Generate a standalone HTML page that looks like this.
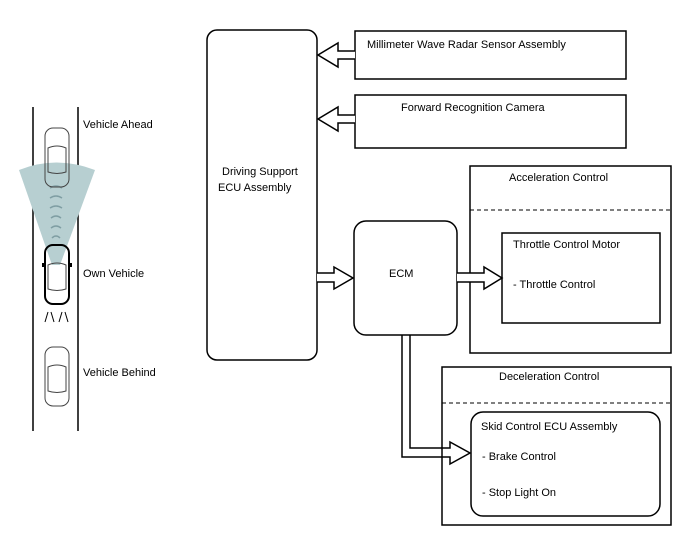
<!DOCTYPE html>
<html><head><style>
body{margin:0;background:#fff;}
svg{display:block;font-family:"Liberation Sans",sans-serif;font-size:11px;}
</style></head><body>
<svg width="688" height="560" viewBox="0 0 688 560">
<g stroke="#000" stroke-width="1.5" fill="none">
<line x1="33" y1="107" x2="33" y2="431"/>
<line x1="78" y1="107" x2="78" y2="431"/>
</g>
<path d="M19,170 Q56,155 95,170 L60,265 L52,265 Z" fill="#b7cfd1"/>
<g fill="none" stroke="#7f9ea3" stroke-width="1.5">
<path d="M50,188 Q56,184 62,188"/><path d="M50,198 Q56,194 62,198"/><path d="M50,208 Q56,204 62,208"/>
<path d="M51,218 Q56,214 61,218"/><path d="M51,228 Q56,224 61,228"/><path d="M52,238 Q56,234 60,238"/>
</g>
<g fill="none" stroke="#444" stroke-width="1">
<rect x="45" y="128" width="24" height="59" rx="8"/>
<path d="M48,148 Q57,144 66,148 L66,172 Q57,175 48,172 Z"/>
<rect x="45" y="347" width="24" height="59" rx="8"/>
<path d="M48,367 Q57,363 66,367 L66,391 Q57,394 48,391 Z"/>
</g>
<rect x="45" y="245" width="24" height="59" rx="8" fill="none" stroke="#000" stroke-width="2"/>
<path d="M48,265 Q57,261 66,265 L66,289 Q57,292 48,289 Z" fill="none" stroke="#444"/>
<rect x="42" y="263" width="3" height="4" fill="#000"/><rect x="69" y="263" width="3" height="4" fill="#000"/>
<g stroke="#000" stroke-width="1">
<line x1="45" y1="322" x2="48" y2="312"/><line x1="51" y1="312" x2="54" y2="322"/>
<line x1="59" y1="322" x2="62" y2="312"/><line x1="65" y1="312" x2="68" y2="322"/>
</g>
<text x="83" y="128">Vehicle Ahead</text>
<text x="83" y="277">Own Vehicle</text>
<text x="83" y="376">Vehicle Behind</text>
<g stroke="#000" stroke-width="1.5" fill="#fff">
<rect x="207" y="30" width="110" height="330" rx="10"/>
<rect x="355" y="31" width="271" height="48"/>
<rect x="355" y="95" width="271" height="53"/>
<rect x="470" y="166" width="201" height="187"/>
<rect x="502" y="233" width="158" height="90"/>
<rect x="354" y="221" width="103" height="114" rx="12"/>
<rect x="442" y="367" width="229" height="158"/>
<rect x="471" y="412" width="189" height="104" rx="12"/>
</g>
<g stroke="#000" stroke-dasharray="4,3"><line x1="470" y1="210" x2="671" y2="210"/><line x1="442" y1="403" x2="671" y2="403"/></g>
<g stroke="#000" stroke-width="1.5" fill="#fff" stroke-linejoin="miter">
<path d="M355,51 L338,51 L338,43 L318,55 L338,67 L338,59 L355,59"/>
<path d="M355,115 L338,115 L338,107 L318,119 L338,131 L338,123 L355,123"/>
<path d="M317,273 L334,273 L334,267 L353,278 L334,289 L334,282 L317,282"/>
<path d="M457,273 L484,273 L484,267 L502,278 L484,289 L484,282 L457,282"/>
<path d="M402,335 L402,457 L450,457 L450,464 L470,453 L450,442 L450,448 L410,448 L410,335" fill="none"/>
</g>
<text x="222" y="175">Driving Support</text>
<text x="218" y="191">ECU Assembly</text>
<text x="367" y="48">Millimeter Wave Radar Sensor Assembly</text>
<text x="401" y="111">Forward Recognition Camera</text>
<text x="509" y="181">Acceleration Control</text>
<text x="513" y="248">Throttle Control Motor</text>
<text x="513" y="288">- Throttle Control</text>
<text x="389" y="277">ECM</text>
<text x="499" y="380">Deceleration Control</text>
<text x="481" y="430">Skid Control ECU Assembly</text>
<text x="482" y="460">- Brake Control</text>
<text x="482" y="496">- Stop Light On</text>
</svg>
</body></html>
